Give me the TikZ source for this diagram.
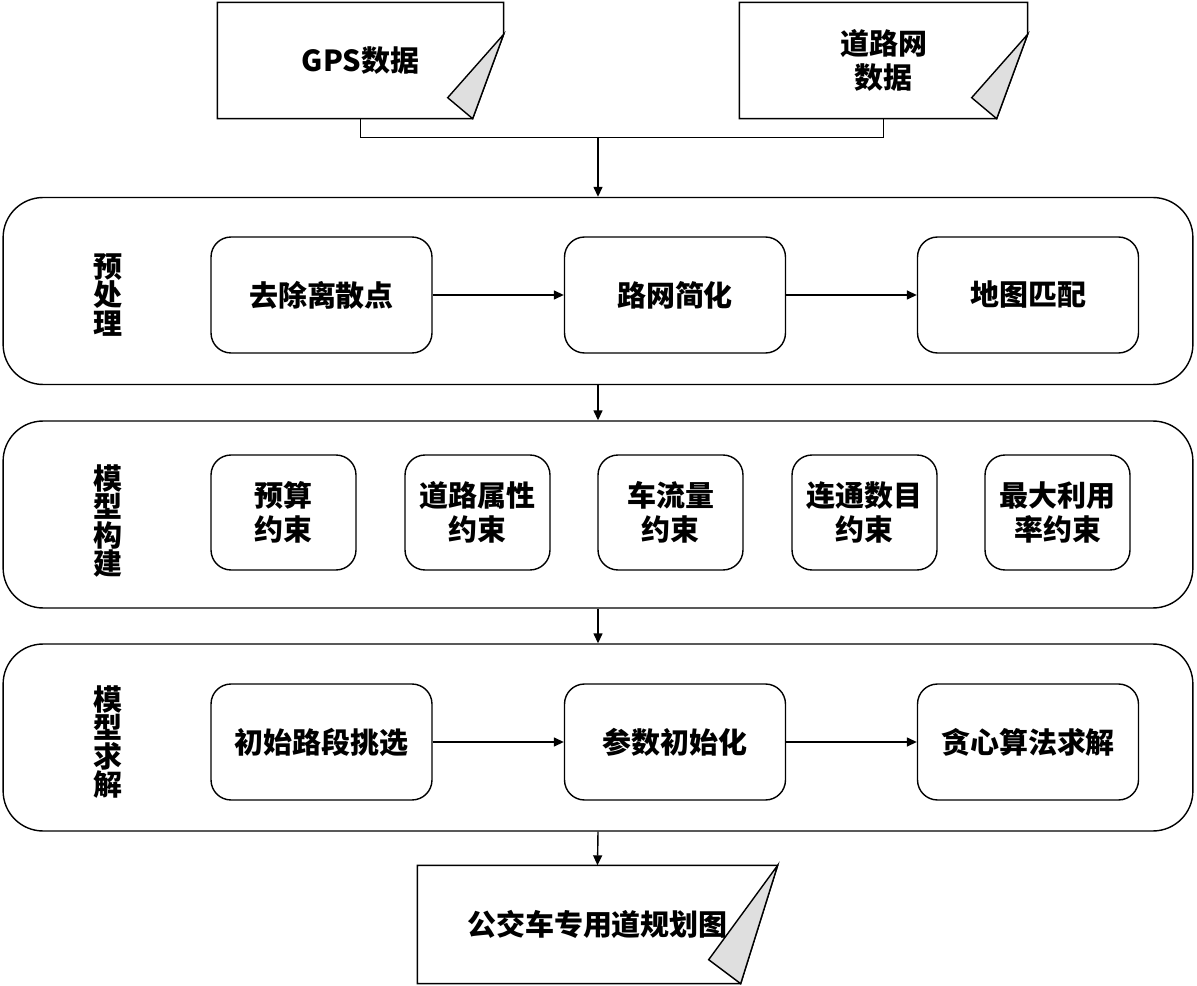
\documentclass[tikz,border=0pt]{standalone}
\usepackage{fontspec}
\setmainfont{Noto Sans CJK SC}
\usetikzlibrary{arrows.meta, calc, shapes}

\begin{document}
\begin{tikzpicture}[x=0.02cm, y=-0.02cm, ->, >={Triangle[length=2mm, width=1.8mm]}, line width=0.8pt,
	every node/.style={font=\bfseries\fontsize{16.5pt}{19.5pt}\selectfont, align=center},
	frame/.style={draw, rounded corners=0.8cm, minimum width=23.8cm, minimum height=3.74cm},
	wide/.style={draw, rounded corners=0.4cm, minimum width=4.42cm, minimum height=2.32cm},
	narrow/.style={draw, rounded corners=0.4cm, minimum width=2.9cm, minimum height=2.3cm},
	doc/.style={inner sep=0pt, minimum width=#1, minimum height=2.3cm},
	title/.style={font=\bfseries\fontsize{16.5pt}{16pt}\selectfont}]
		\useasboundingbox (0, 0) rectangle (1197, 986);
		
		% input data
		\node[doc=5.7cm] (gps) at (360.5, 60.5) {GPS数据};
		\node[doc=5.74cm] (road) at (883.5, 60.5) {道路网\\数据};
		\foreach \d in {gps, road} {
			\draw[-] (\d.north west) -- (\d.north east) -- ($(\d.north east)+(0, 32)$) -- ($(\d.south east)+(-31, 0)$) -- (\d.south west) -- cycle;
			\draw[-, fill=gray!25] ($(\d.north east)+(0, 32)$) -- ($(\d.south east)+(-31, 0)$) -- ($(\d.south east)+(-56, -21)$) -- cycle;
		}
		
		% three stages
		\node[frame] (pre) at (598, 291) {};
		\node[frame] (build) at (598, 514.5) {};
		\node[frame] (solve) at (598, 737.5) {};
		
		\node[title] (t1) at (108, 295) {预\\处\\理};
		\node[title] (t2) at (108, 521) {模\\型\\构\\建};
		\node[title] (t3) at (108, 742) {模\\型\\求\\解};
		
		\node[wide] (p1) at (321.5, 295) {去除离散点};
		\node[wide] (p2) at (675, 295) {路网简化};
		\node[wide] (p3) at (1028, 295) {地图匹配};
		
		\node[narrow] (b1) at (283.5, 512.5) {预算\\约束};
		\node[narrow] (b2) at (477.5, 512.5) {道路属性\\约束};
		\node[narrow] (b3) at (670.5, 512.5) {车流量\\约束};
		\node[narrow] (b4) at (864.5, 512.5) {连通数目\\约束};
		\node[narrow] (b5) at (1057.5, 512.5) {最大利用\\率约束};
		
		\node[wide] (s1) at (321.5, 742) {初始路段挑选};
		\node[wide] (s2) at (675, 742) {参数初始化};
		\node[wide] (s3) at (1028, 742) {贪心算法求解};
		
		% output
		\node[doc=7.18cm, minimum height=2.34cm] (plan) at (597.5, 924.5) {公交车专用道规划图};
		\draw[-] (plan.north west) -- (plan.north east) -- ($(plan.south east)+(-37, 0)$) -- (plan.south west) -- cycle;
		\draw[-, fill=gray!25] (plan.north east) -- ($(plan.south east)+(-37, 0)$) -- ($(plan.south east)+(-69, -24)$) -- cycle;
		
		\draw[-] (gps.south) -- ++(0, 19) -| (road.south);
		\coordinate (join) at (598, 137);
		\path (join) edge (pre.north)
			(pre.south) edge (build.north)
			(build.south) edge (solve.north)
			(solve.south) edge (plan.north)
			(p1) edge (p2) (p2) edge (p3)
			(s1) edge (s2) (s2) edge (s3);
		
	\end{tikzpicture}
\end{document}
